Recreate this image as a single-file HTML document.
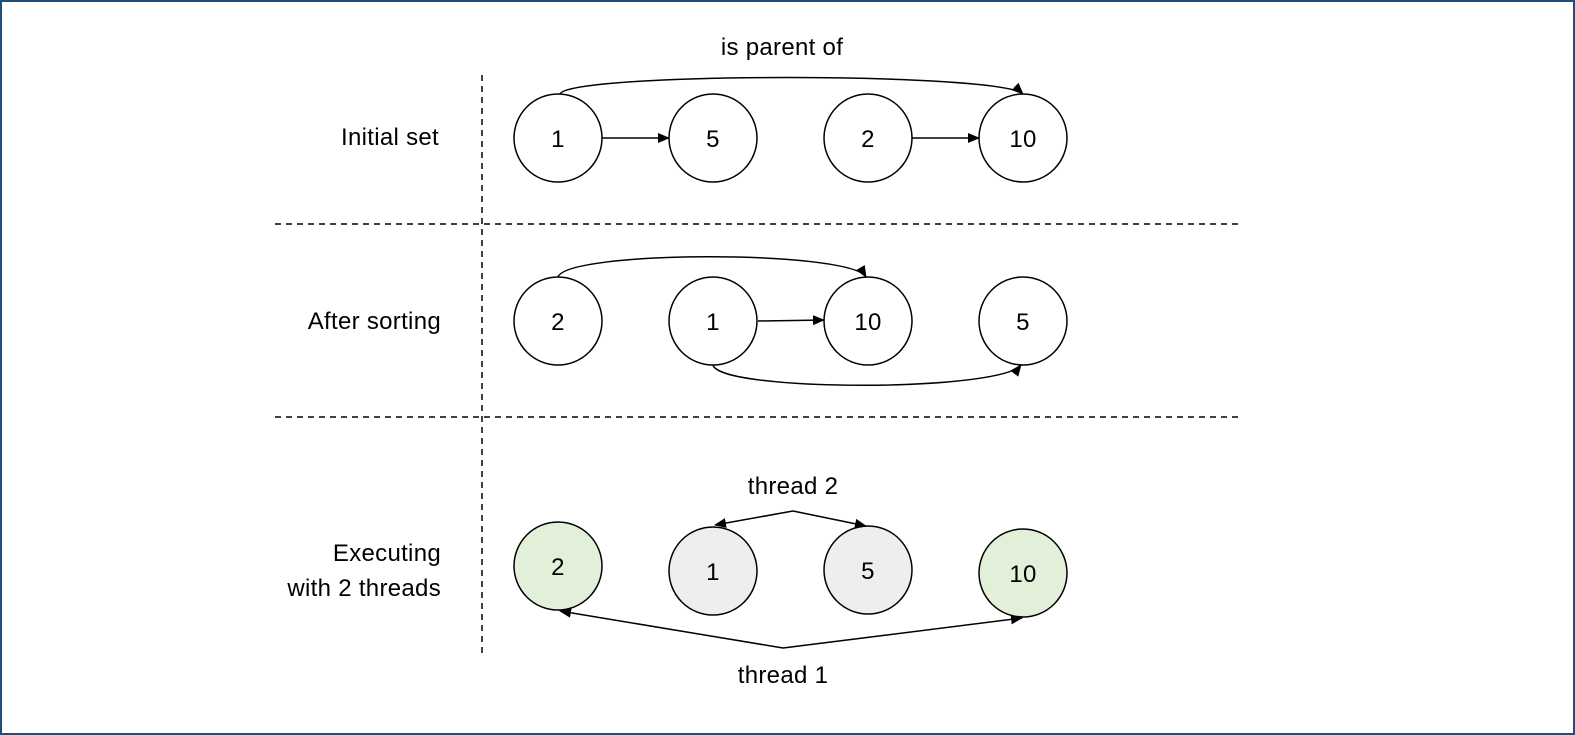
<!DOCTYPE html>
<html><head><style>
html,body{margin:0;padding:0;background:#fff}
svg{display:block}
text{font-family:"Liberation Sans",sans-serif;font-size:24px;fill:#000;letter-spacing:0.3px}
</style></head><body>
<svg width="1575" height="735" viewBox="0 0 1575 735">
<defs><marker id="a" markerWidth="12" markerHeight="10" refX="11" refY="5" orient="auto" markerUnits="userSpaceOnUse"><path d="M0,0 L12,5 L0,10 z" fill="#000"/></marker></defs>
<rect x="1" y="1" width="1573" height="733" fill="none" stroke="#1f4e79" stroke-width="2"/>
<g stroke="#000" stroke-width="1.5" stroke-dasharray="6,5" fill="none">
<line x1="482" y1="75" x2="482" y2="655"/>
<line x1="275" y1="224" x2="1240" y2="224"/>
<line x1="275" y1="417" x2="1240" y2="417"/>
</g>
<g text-anchor="end">
<text x="439" y="145">Initial set</text>
<text x="441" y="329">After sorting</text>
<text x="441" y="561">Executing</text>
<text x="441" y="596">with 2 threads</text>
</g>
<g text-anchor="middle">
<text x="782" y="55">is parent of</text>
<text x="793" y="494">thread 2</text>
<text x="783" y="683">thread 1</text>
</g>
<g stroke="#000" stroke-width="1.5">
<circle cx="558" cy="138" r="44" fill="#fff"/>
<circle cx="713" cy="138" r="44" fill="#fff"/>
<circle cx="868" cy="138" r="44" fill="#fff"/>
<circle cx="1023" cy="138" r="44" fill="#fff"/>
<circle cx="558" cy="321" r="44" fill="#fff"/>
<circle cx="713" cy="321" r="44" fill="#fff"/>
<circle cx="868" cy="321" r="44" fill="#fff"/>
<circle cx="1023" cy="321" r="44" fill="#fff"/>
<circle cx="558" cy="566" r="44" fill="#e2efd9"/>
<circle cx="713" cy="571" r="44" fill="#eeeeee"/>
<circle cx="868" cy="570" r="44" fill="#eeeeee"/>
<circle cx="1023" cy="573" r="44" fill="#e2efd9"/>
</g>
<g text-anchor="middle">
<text x="558" y="147">1</text><text x="713" y="147">5</text><text x="868" y="147">2</text><text x="1023" y="147">10</text>
<text x="558" y="330">2</text><text x="713" y="330">1</text><text x="868" y="330">10</text><text x="1023" y="330">5</text>
<text x="558" y="575">2</text><text x="713" y="580">1</text><text x="868" y="579">5</text><text x="1023" y="582">10</text>
</g>
<g stroke="#000" stroke-width="1.5" fill="none" marker-end="url(#a)">
<line x1="602" y1="138" x2="669" y2="138"/>
<line x1="912" y1="138" x2="979" y2="138"/>
<path d="M560,94 C570,72 1000,72 1023,94"/>
<path d="M558,277 C568,250 850,250 866,277"/>
<line x1="758" y1="321" x2="824" y2="320"/>
<path d="M713,365 C720,392 1000,392 1021,365"/>
<line x1="793" y1="511" x2="715" y2="525"/>
<line x1="793" y1="511" x2="866" y2="526"/>
<line x1="783" y1="648" x2="560" y2="611"/>
<line x1="783" y1="648" x2="1022" y2="618"/>
</g>
</svg>
</body></html>
